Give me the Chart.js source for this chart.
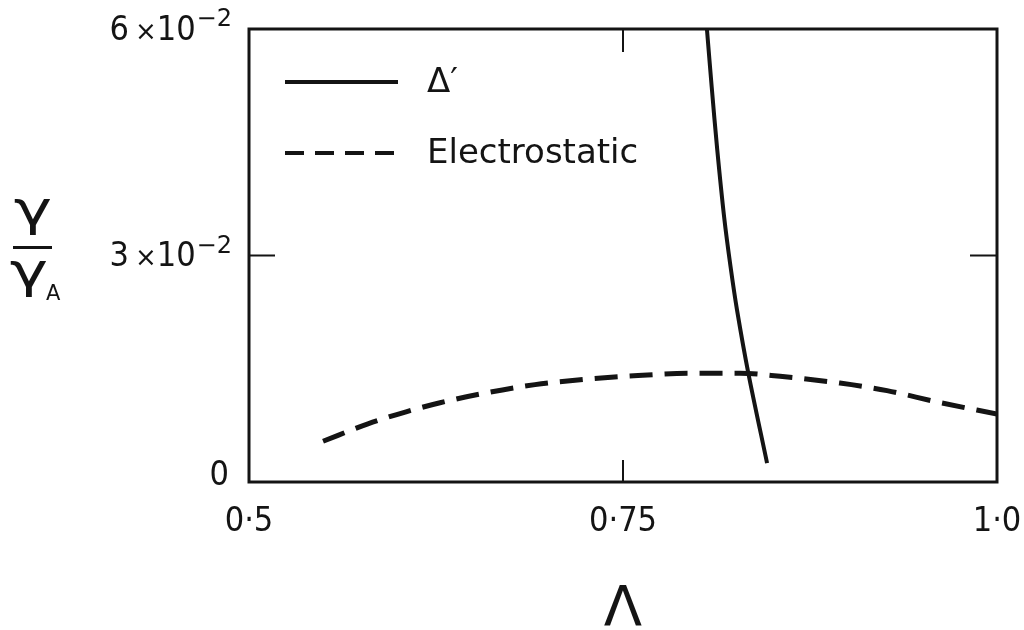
<!DOCTYPE html>
<html>
<head>
<meta charset="utf-8">
<script src="https://cdn.jsdelivr.net/npm/chart.js@4/dist/chart.umd.min.js"></script>
<style>
  html, body { margin: 0; padding: 0; background: #ffffff; }
  #wrap { width: 1024px; height: 630px; }
</style>
</head>
<body>
<div id="wrap"><canvas id="chart" width="1024" height="630"></canvas></div>
<script>
// Growth rate γ/γ_A against Λ for the two models
const deltaPrimeX = [0.8061, 0.8093, 0.8130, 0.8176, 0.8219, 0.8262, 0.8338, 0.8463];
const deltaPrimeY = [0.0600, 0.0523, 0.0440, 0.0351, 0.0285, 0.0228, 0.0144, 0.0025];

const electroX = [0.5495, 0.5795, 0.6050, 0.6277, 0.6557, 0.6912, 0.7246, 0.7600,
                  0.7948, 0.8282, 0.8550, 0.8950, 0.9265, 0.9600, 1.0000];
const electroY = [0.0054, 0.0077, 0.0093, 0.0105, 0.0117, 0.0129, 0.0136, 0.0141,
                  0.0144, 0.0144, 0.0140, 0.0131, 0.0121, 0.0106, 0.0090];

const seriesNames = ['Δ′', 'Electrostatic'];

const xTickValues = [0.5, 0.75, 1.0];
const xTickLabels = ['0·5', '0·75', '1·0'];
const yTickValues = [0, 0.03, 0.06];
const yTickMantissa = ['0', '3', '6'];
const yTickExponent = ['', '−2', '−2'];

const INK = '#141414';
const CONDENSED = '"DejaVu Sans Condensed", "DejaVu Sans", sans-serif';
const SANS = '"DejaVu Sans", sans-serif';

function toPoints(xs, ys) {
  return xs.map((x, i) => ({ x: x, y: ys[i] }));
}

// Frame, inward ticks, legend, y tick labels with exponents and the y title
const paperPlugin = {
  id: 'paper',
  afterDatasetsDraw(chart) {
    const { ctx, chartArea: a, scales: { x, y } } = chart;
    ctx.save();
    ctx.strokeStyle = INK;
    ctx.fillStyle = INK;
    ctx.lineCap = 'butt';

    // box
    ctx.lineWidth = 3;
    ctx.strokeRect(a.left, a.top, a.right - a.left, a.bottom - a.top);

    // inward tick marks on inner values
    ctx.lineWidth = 2;
    xTickValues.forEach(v => {
      if (v <= x.min || v >= x.max) return;
      const px = x.getPixelForValue(v);
      ctx.beginPath();
      ctx.moveTo(px, a.bottom); ctx.lineTo(px, a.bottom - 22);
      ctx.moveTo(px, a.top); ctx.lineTo(px, a.top + 23);
      ctx.stroke();
    });
    yTickValues.forEach(v => {
      if (v <= y.min || v >= y.max) return;
      const py = y.getPixelForValue(v);
      ctx.beginPath();
      ctx.moveTo(a.left, py); ctx.lineTo(a.left + 26, py);
      ctx.moveTo(a.right, py); ctx.lineTo(a.right - 27, py);
      ctx.stroke();
    });

    // y tick labels: mantissa ×10 with raised exponent
    const labelRight = a.left - 17;
    yTickValues.forEach((v, i) => {
      const py = y.getPixelForValue(v) + 2;
      ctx.textBaseline = 'middle';
      ctx.textAlign = 'right';
      let r = labelRight;
      if (yTickExponent[i]) {
        ctx.font = '24px ' + SANS;
        const ew = ctx.measureText(yTickExponent[i]).width;
        ctx.fillText(yTickExponent[i], r, py - 11);
        r -= ew + 1;
        ctx.font = '34px ' + CONDENSED;
        const tw = ctx.measureText('10').width;
        ctx.fillText('10', r, py);
        r -= tw;
        ctx.font = '26px ' + SANS;
        const mw = ctx.measureText('×').width;
        ctx.fillText('×', r, py + 2);
        r -= mw + 6;
        ctx.font = '34px ' + CONDENSED;
        ctx.fillText(yTickMantissa[i], r, py);
      } else {
        ctx.font = '34px ' + CONDENSED;
        ctx.fillText(yTickMantissa[i], r - 3, py - 8);
      }
    });

    // y title: γ over γ_A
    const cx = 33;
    const barY = y.getPixelForValue(0.03) - 8;
    ctx.textAlign = 'center';
    ctx.textBaseline = 'alphabetic';
    ctx.font = '48px ' + SANS;
    ctx.save();
    ctx.translate(cx, barY - 23);
    ctx.scale(1.35, 1);
    ctx.fillText('γ', 0, 0);
    ctx.restore();
    ctx.lineWidth = 3;
    ctx.beginPath();
    ctx.moveTo(13, barY); ctx.lineTo(52, barY);
    ctx.stroke();
    ctx.save();
    ctx.translate(cx - 4, barY + 39);
    ctx.scale(1.35, 1);
    ctx.fillText('γ', 0, 0);
    ctx.restore();
    ctx.font = '21px ' + SANS;
    ctx.textAlign = 'left';
    ctx.fillText('A', 46, barY + 52);

    // legend
    const lx0 = a.left + 36, lx1 = a.left + 149, tx = a.left + 178;
    const rows = [a.top + 53, a.top + 124];
    ctx.lineWidth = 4;
    ctx.beginPath();
    ctx.moveTo(lx0, rows[0]); ctx.lineTo(lx1, rows[0]);
    ctx.stroke();
    ctx.setLineDash([19, 11]);
    ctx.beginPath();
    ctx.moveTo(lx0, rows[1]); ctx.lineTo(lx1, rows[1]);
    ctx.stroke();
    ctx.setLineDash([]);
    ctx.textAlign = 'left';
    ctx.textBaseline = 'middle';
    ctx.font = '34px ' + SANS;
    ctx.fillText(seriesNames[0], tx, rows[0] + 1);
    ctx.fillText(seriesNames[1], tx, rows[1] + 1);

    ctx.restore();
  }
};

new Chart(document.getElementById('chart'), {
  type: 'line',
  data: {
    datasets: [
      {
        label: seriesNames[0],
        data: toPoints(deltaPrimeX, deltaPrimeY),
        borderColor: INK,
        borderWidth: 4,
        pointRadius: 0,
        tension: 0.3,
        fill: false
      },
      {
        label: seriesNames[1],
        data: toPoints(electroX, electroY),
        borderColor: INK,
        borderWidth: 5,
        borderDash: [23, 12],
        pointRadius: 0,
        tension: 0.4,
        cubicInterpolationMode: 'monotone',
        fill: false
      }
    ]
  },
  options: {
    responsive: false,
    animation: false,
    devicePixelRatio: 1,
    layout: { autoPadding: false, padding: { left: 0, top: 29, right: 27, bottom: 0 } },
    plugins: { legend: { display: false }, tooltip: { enabled: false } },
    scales: {
      x: {
        type: 'linear',
        min: 0.5,
        max: 1.0,
        grid: { display: false, drawTicks: false },
        border: { display: false },
        afterBuildTicks: s => { s.ticks = xTickValues.map(v => ({ value: v })); },
        afterFit: s => { s.height = 148; s.paddingLeft = 0; s.paddingRight = 0; },
        ticks: {
          autoSkip: false,
          maxRotation: 0,
          padding: 20,
          color: INK,
          font: { family: CONDENSED, size: 34 },
          callback: v => xTickLabels[xTickValues.indexOf(v)]
        },
        title: {
          display: true,
          text: 'Λ',
          color: INK,
          font: { family: SANS, size: 56, lineHeight: 1 },
          padding: { top: 0, bottom: -8 }
        }
      },
      y: {
        type: 'linear',
        min: 0,
        max: 0.06,
        grid: { display: false, drawTicks: false },
        border: { display: false },
        afterBuildTicks: s => { s.ticks = yTickValues.map(v => ({ value: v })); },
        afterFit: s => { s.width = 249; s.paddingTop = 0; s.paddingBottom = 0; },
        ticks: { display: false }
      }
    }
  },
  plugins: [paperPlugin]
});
</script>
</body>
</html>
